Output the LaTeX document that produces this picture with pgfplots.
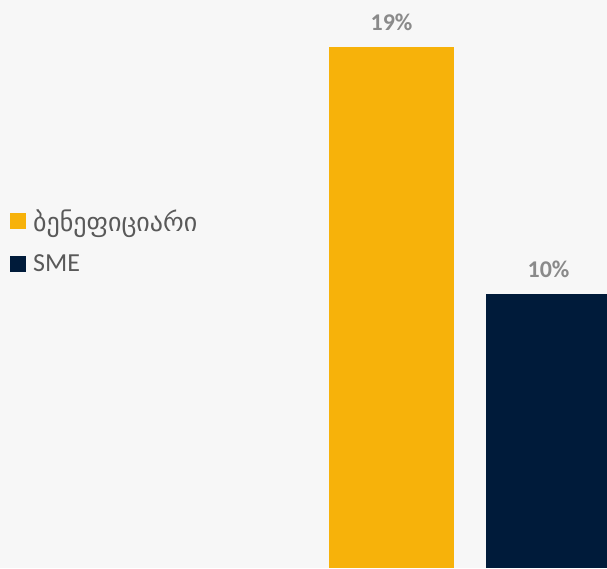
\documentclass[border=0pt]{standalone}
\usepackage{fontspec}
\setmainfont{Carlito}
\newfontfamily\geofont{DejaVu Sans}
\usepackage{pgfplots}
\pgfplotsset{compat=1.18}
\definecolor{bg}{HTML}{F7F7F7}
\definecolor{gold}{HTML}{F7B20A}
\definecolor{navy}{HTML}{001B3A}
\definecolor{lblgray}{HTML}{8A8A8A}
\definecolor{txtgray}{HTML}{595959}
\begin{document}
\begin{tikzpicture}
\useasboundingbox (0,0) rectangle (607pt,568pt);
\fill[bg] (0,0) rectangle (607pt,568pt);
\begin{axis}[
  at={(0,0)}, anchor=south west,
  scale only axis,
  width=607pt, height=568pt,
  xmin=0, xmax=607,
  ymin=0, ymax=20.73,
  hide axis,
  point meta=explicit symbolic,
  nodes near coords,
  nodes near coords style={font=\fontsize{24}{24}\selectfont\bfseries, text=lblgray, anchor=center, yshift=25pt},
  legend style={at={(rel axis cs:0.0165,0.635)}, anchor=north west, draw=none, fill=none,
    font=\fontsize{26}{26}\selectfont, text=txtgray,
    row sep=18pt, inner sep=0pt,
    nodes={inner sep=2pt, anchor=west},
    /tikz/every odd column/.append style={column sep=5pt}},
  legend cell align=left,
  legend image code/.code={\fill[#1] (0pt,-8pt) rectangle (16pt,8pt);},
]
\addplot[ybar, bar width=125, bar shift=0pt, fill=gold, draw=none] coordinates {(391.5,19) [19\%]};
\addlegendentry{{\geofont\fontsize{26}{26}\selectfont ბენეფიციარი}}
\addplot[ybar, bar width=125, bar shift=0pt, fill=navy, draw=none] coordinates {(548.5,10) [10\%]};
\addlegendentry{SME}
\end{axis}
\end{tikzpicture}
\end{document}
